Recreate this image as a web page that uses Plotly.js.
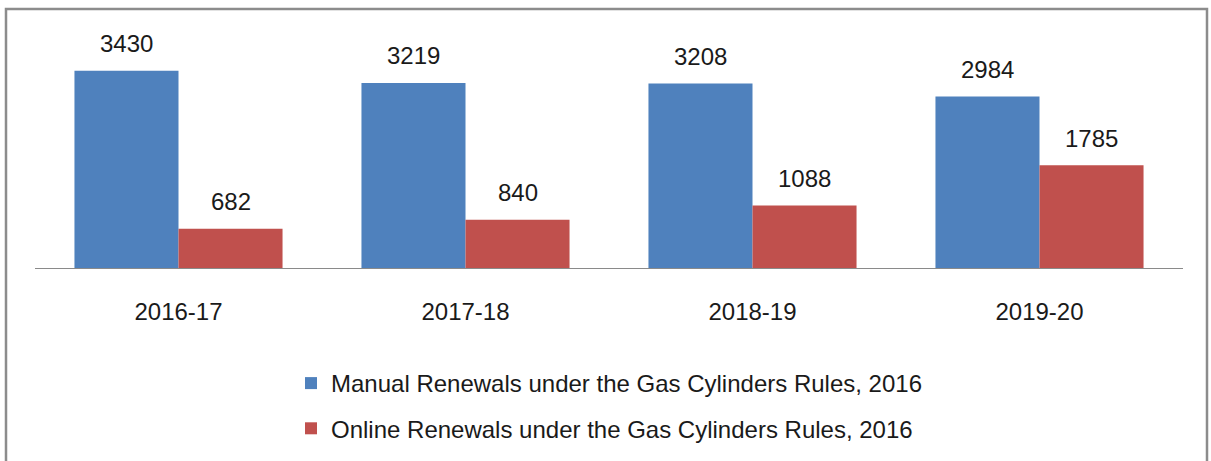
<!DOCTYPE html>
<html>
<head>
<meta charset="utf-8">
<script src="https://cdn.plot.ly/plotly-3.0.1.min.js"></script>
<style>
  html, body { margin: 0; padding: 0; background: #fff; }
  #chart { width: 1211px; height: 461px; }
</style>
</head>
<body>
<div id="chart"></div>
<script>
const categories = ["2016-17", "2017-18", "2018-19", "2019-20"];
const manualRenewals = [3430, 3219, 3208, 2984];
const onlineRenewals = [682, 840, 1088, 1785];
const seriesNames = [
  "Manual Renewals under the Gas Cylinders Rules, 2016",
  "Online Renewals under the Gas Cylinders Rules, 2016"
];
const seriesColors = ["#4F81BD", "#C0504D"];

const FONT = "Liberation Sans, Arial, sans-serif";
const TEXTCOL = "#1a1a1a";

const W = 1211, H = 461;
const margin = {l: 35, r: 28, t: 38, b: 193};
const plotW = W - margin.l - margin.r;
const plotH = H - margin.t - margin.b;
const bargap = 0.275;
const barPx = plotW / categories.length * (1 - bargap) / 2;

const traces = [manualRenewals, onlineRenewals].map((vals, i) => ({
  type: "bar",
  x: categories,
  y: vals,
  name: seriesNames[i],
  legendgroup: "g" + i,
  marker: {color: seriesColors[i], line: {width: 0}},
  hoverinfo: "skip"
}));

const annotations = [];
[manualRenewals, onlineRenewals].forEach((vals, i) => {
  vals.forEach((v, j) => {
    annotations.push({
      x: categories[j], y: v, xref: "x", yref: "y",
      text: String(v), showarrow: false,
      xanchor: "center", yanchor: "middle",
      xshift: (i === 0 ? -1 : 1) * barPx / 2,
      yshift: 27,
      font: {family: FONT, size: 24, color: TEXTCOL}
    });
  });
});

// outer frame (chart area border of the original)
const px2x = p => (p - margin.l) / plotW;
const py2y = p => (H - margin.b - p) / plotH;
const shapes = [{
  type: "rect", xref: "paper", yref: "paper",
  x0: px2x(6), x1: px2x(1207), y0: py2y(520), y1: py2y(9),
  line: {color: "#8c8c8c", width: 2.5}, fillcolor: "rgba(0,0,0,0)", layer: "below"
}];

const layout = {
  width: W, height: H,
  margin: margin,
  paper_bgcolor: "#ffffff",
  plot_bgcolor: "rgba(0,0,0,0)",
  barmode: "group",
  bargap: bargap,
  bargroupgap: 0,
  font: {family: FONT, size: 24, color: TEXTCOL},
  xaxis: {
    type: "category",
    showline: true, linecolor: "#8a8a8a", linewidth: 1,
    ticks: "", showgrid: false, zeroline: false,
    ticklabelstandoff: 22,
    tickfont: {family: FONT, size: 24, color: TEXTCOL},
    fixedrange: true, automargin: false
  },
  yaxis: {
    range: [0, 4000],
    visible: false, showgrid: false, zeroline: false, fixedrange: true, automargin: false
  },
  showlegend: true,
  legend: {
    orientation: "v",
    x: 0.5, xanchor: "center",
    yref: "container",
    y: (H - 361) / H, yanchor: "top",
    traceorder: "grouped",
    tracegroupgap: 11,
    itemwidth: 30,
    font: {family: FONT, size: 24, color: TEXTCOL},
    bgcolor: "rgba(0,0,0,0)"
  },
  annotations: annotations,
  shapes: shapes
};

Plotly.newPlot("chart", traces, layout, {displayModeBar: false, staticPlot: true});
</script>
</body>
</html>
